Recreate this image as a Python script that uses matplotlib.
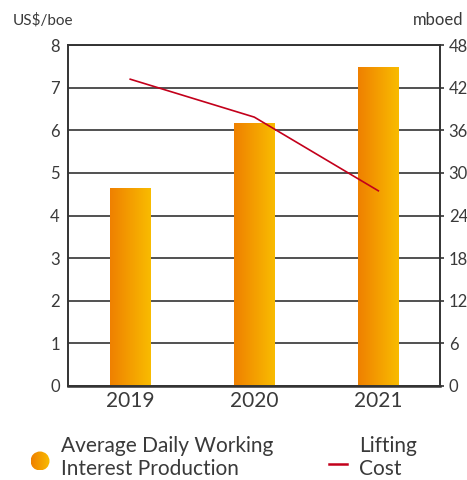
import matplotlib.pyplot as plt
import numpy as np
from matplotlib.colors import LinearSegmentedColormap
from matplotlib.patches import Circle

plt.rcParams['font.family'] = ['Lato', 'DejaVu Sans']

years = ['2019', '2020', '2021']
production = [27.9, 37.0, 44.9]      # mboed (right axis)
lifting_cost = [7.2, 6.31, 4.58]     # US$/boe (left axis)

text_col = '#3a3a3a'
grid_col = '#333333'
red = '#c3001b'
grad = LinearSegmentedColormap.from_list('og', ['#ef8000', '#f9bc00'])

W, H = 467, 480
fig = plt.figure(figsize=(W / 100, H / 100), dpi=100)
ax1 = fig.add_axes([0.146, 0.196, 0.797, 0.710])
ax2 = ax1.twinx()

x = np.arange(len(years))

# bars on right axis with horizontal gradient
bars = ax2.bar(x, production, width=0.33, color='none', edgecolor='none')
g = np.linspace(0, 1, 256).reshape(1, -1)
for b in bars:
    bx, bw, bh = b.get_x(), b.get_width(), b.get_height()
    im = ax2.imshow(g, cmap=grad, extent=[bx, bx + bw, 0, bh], aspect='auto', zorder=2)
    im.set_clip_path(b)

ax2.set_ylim(0, 48)
ax2.set_yticks(np.arange(0, 49, 6))
ax2.set_axisbelow(True)
ax2.grid(axis='y', color=grid_col, linewidth=1.2)
ax2.grid(axis='x', visible=False)

# lifting cost line on left axis, drawn on top
ax1.set_zorder(ax2.get_zorder() + 1)
ax1.patch.set_visible(False)
ax1.plot(x, lifting_cost, color=red, linewidth=1.2)
ax1.set_ylim(0, 8)
ax1.set_yticks(np.arange(0, 9, 1))
ax1.set_xlim(-0.5, 2.5)
ax1.set_xticks(x)
ax1.set_xticklabels(years)

for ax in (ax1, ax2):
    for s in ax.spines.values():
        s.set_color(grid_col)
        s.set_linewidth(1.2)
ax1.spines['bottom'].set_linewidth(1.8)

ax1.tick_params(axis='y', length=0, pad=6, labelsize=12, labelcolor=text_col)
ax1.tick_params(axis='x', length=0, pad=4, labelsize=15, labelcolor=text_col)
ax2.tick_params(axis='y', length=3, width=1.2, color=grid_col, pad=3,
                labelsize=12, labelcolor=text_col)

fig.text(13 / W, 1 - 20 / H, 'US$/boe', fontsize=11, color=text_col, va='center')
fig.text(463 / W, 1 - 20 / H, 'mboed', fontsize=12, color=text_col, va='center', ha='right')

# legend (drawn in pixel coordinates of a full-figure overlay)
lax = fig.add_axes([0, 0, 1, 1])
lax.set_xlim(0, W)
lax.set_ylim(H, 0)
lax.axis('off')
circ = Circle((40, 461), 9.5, facecolor='none', edgecolor='none')
lax.add_patch(circ)
cim = lax.imshow(g, cmap=grad, extent=[30.5, 49.5, 470.5, 451.5], aspect='auto')
cim.set_clip_path(circ)
lax.set_xlim(0, W)
lax.set_ylim(H, 0)
lax.plot([329, 347], [464, 464], color=red, linewidth=1.8)

for txt, x0 in [(['Average Daily Working', 'Interest Production'], 61),
                (['Lifting', 'Cost'], 359)]:
    fig.text(x0 / W, 1 - 452 / H, txt[0], fontsize=15, color=text_col, va='baseline')
    fig.text(x0 / W, 1 - 475 / H, txt[1], fontsize=15, color=text_col, va='baseline')

fig.savefig('out.png', dpi=100)
